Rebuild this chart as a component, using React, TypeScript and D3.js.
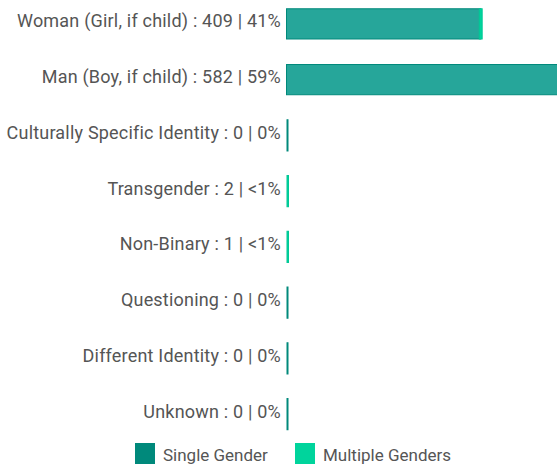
import React from "react";
import * as d3 from "d3";

const categories = [
  "Woman (Girl, if child)",
  "Man (Boy, if child)",
  "Culturally Specific Identity",
  "Transgender",
  "Non-Binary",
  "Questioning",
  "Different Identity",
  "Unknown",
];
const totals = [409, 582, 0, 2, 1, 0, 0, 0];
const percents = ["41%", "59%", "0%", "<1%", "<1%", "0%", "0%", "0%"];
const singleGender = [403, 578, 0, 0, 0, 0, 0, 0];
const multipleGenders = [6, 4, 0, 2, 1, 0, 0, 0];
const seriesNames = ["Single Gender", "Multiple Genders"];

const W = 557;
const H = 464;
const colors = { single: "#26a69a", singleStroke: "#00897b", multi: "#00d49c", multiStroke: "#00c896" };
const legendColors = ["#00897b", "#00d49c"];

export default function App() {
  const x = d3.scaleLinear().domain([0, 582]).range([286, 568]);
  const y = d3
    .scaleBand<string>()
    .domain(categories)
    .range([-4, 442])
    .paddingInner(0.44)
    .paddingOuter(0.22);
  const bh = y.bandwidth();
  const font = "Roboto, 'Noto Sans', sans-serif";

  return (
    <div style={{ position: "absolute", left: 0, top: 0 }}>
      <svg width={W} height={H} style={{ display: "block" }}>
        {categories.map((c, i) => {
          const y0 = y(c)!;
          const cy = y0 + bh / 2;
          const s = singleGender[i];
          const m = multipleGenders[i];
          const xs0 = x(0);
          const xs1 = x(s);
          const xm1 = x(s + m);
          const total = totals[i];
          return (
            <g key={c}>
              <text
                x={281}
                y={cy - 3}
                textAnchor="end"
                dominantBaseline="central"
                fontFamily={font}
                fontSize={18}
                letterSpacing={0.2}
                fill="#555"
              >
                {`${c} : ${total} | ${percents[i]}`}
              </text>
              {total === 0 ? (
                <rect
                  x={xs0 + 1}
                  y={y0}
                  width={1}
                  height={bh}
                  fill={colors.single}
                  stroke={colors.singleStroke}
                  strokeWidth={1}
                />
              ) : (
                <>
                  {s > 0 && (
                    <rect
                      x={xs0 + 0.5}
                      y={y0 + 0.5}
                      width={Math.max(1, xs1 - xs0 - 1)}
                      height={bh - 1}
                      fill={colors.single}
                      stroke={colors.singleStroke}
                      strokeWidth={1}
                    />
                  )}
                  {m > 0 && (
                    <rect
                      x={s > 0 ? xs1 - 2 : xs0 + 1}
                      y={s > 0 ? y0 + 0.5 : y0}
                      width={Math.max(1.5, xm1 - xs1)}
                      height={s > 0 ? bh - 1 : bh}
                      fill={colors.multi}
                      stroke={colors.multiStroke}
                      strokeWidth={1}
                    />
                  )}
                </>
              )}
            </g>
          );
        })}
        {seriesNames.map((n, i) => {
          const lx = i === 0 ? 135 : 295;
          return (
            <g key={n}>
              <rect x={lx} y={443} width={20} height={21} fill={legendColors[i]} />
              <text
                x={lx + 28}
                y={455}
                dominantBaseline="central"
                fontFamily={font}
                fontSize={17}
                fill="#555"
              >
                {n}
              </text>
            </g>
          );
        })}
      </svg>
    </div>
  );
}
